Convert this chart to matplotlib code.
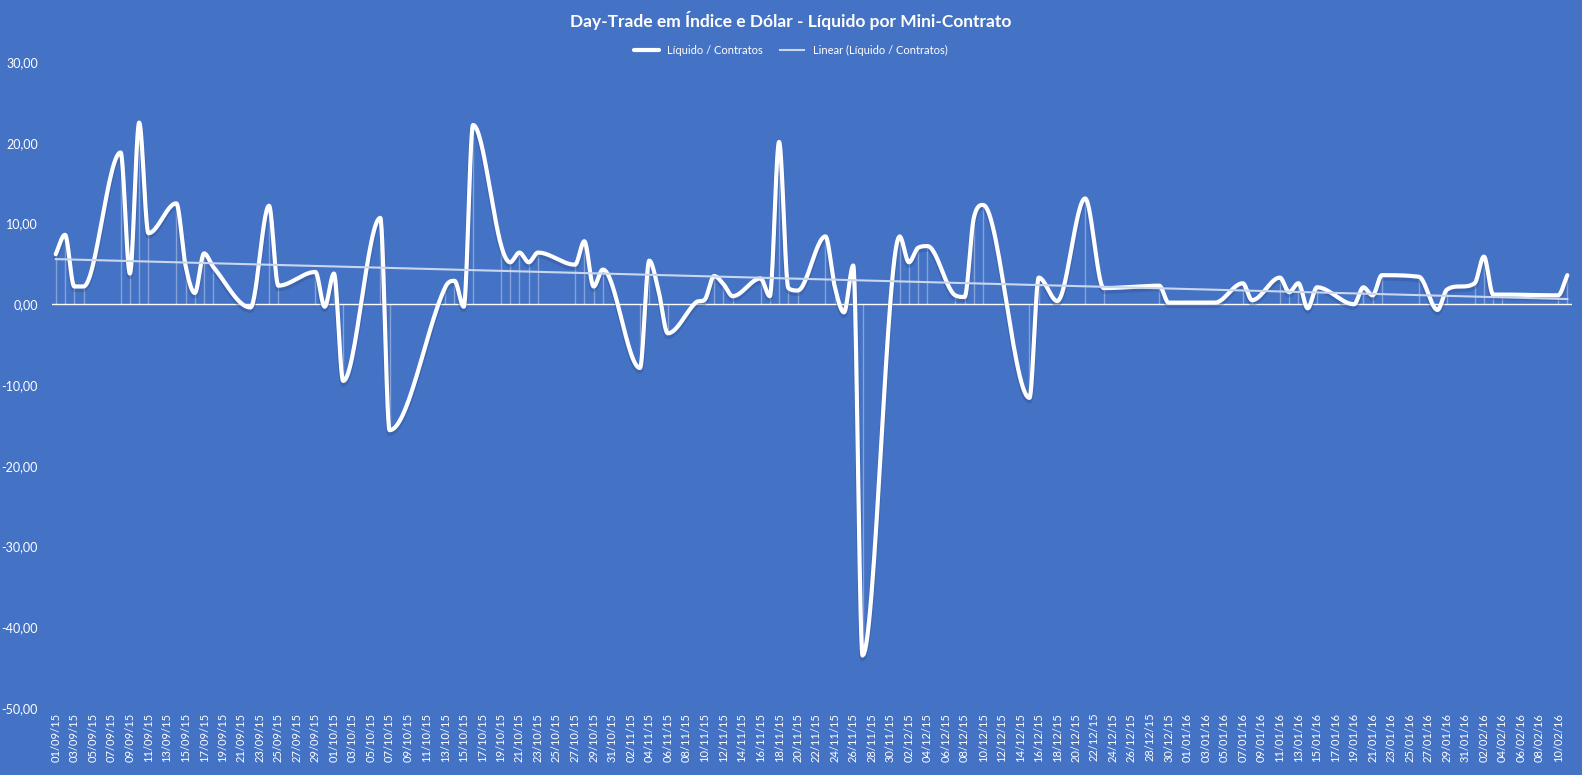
import numpy as np
import matplotlib
matplotlib.use('Agg')
from matplotlib import pyplot as plt
import matplotlib.dates as mdates
from datetime import datetime

# Day-trade results per mini contract
dates = ['01/09/15', '02/09/15', '03/09/15', '04/09/15', '08/09/15', '09/09/15',
         '10/09/15', '11/09/15', '14/09/15', '15/09/15', '16/09/15', '17/09/15',
         '18/09/15', '22/09/15', '24/09/15', '25/09/15', '29/09/15', '30/09/15',
         '01/10/15', '02/10/15', '06/10/15', '07/10/15', '13/10/15', '14/10/15',
         '15/10/15', '16/10/15', '19/10/15', '20/10/15', '21/10/15', '22/10/15',
         '23/10/15', '27/10/15', '28/10/15', '29/10/15', '30/10/15', '03/11/15',
         '04/11/15', '05/11/15', '06/11/15', '09/11/15', '10/11/15', '11/11/15',
         '12/11/15', '13/11/15', '16/11/15', '17/11/15', '18/11/15', '19/11/15',
         '20/11/15', '23/11/15', '24/11/15', '25/11/15', '26/11/15', '27/11/15',
         '01/12/15', '02/12/15', '03/12/15', '04/12/15', '07/12/15', '08/12/15',
         '09/12/15', '10/12/15', '15/12/15', '16/12/15', '18/12/15', '21/12/15',
         '23/12/15', '29/12/15', '30/12/15', '04/01/16', '07/01/16', '08/01/16',
         '11/01/16', '12/01/16', '13/01/16', '14/01/16', '15/01/16', '19/01/16',
         '20/01/16', '21/01/16', '22/01/16', '26/01/16', '28/01/16', '29/01/16',
         '01/02/16', '02/02/16', '03/02/16', '04/02/16', '10/02/16', '11/02/16']
values = [6.2, 8.6, 2.2, 2.2, 18.8, 3.8,
          22.5, 8.8, 12.5, 4.8, 1.4, 6.3,
          4.6, -0.4, 12.2, 2.3, 4.0, -0.3,
          3.8, -9.5, 10.7, -15.6, 2.1, 2.9,
          -0.3, 22.2, 7.4, 5.2, 6.4, 5.2,
          6.4, 4.9, 7.8, 2.2, 4.3, -7.9,
          5.4, 1.7, -3.6, 0.2, 0.6, 3.5,
          2.5, 1.0, 3.2, 1.0, 20.1, 2.0,
          1.7, 8.4, 2.2, -1.0, 4.8, -43.5,
          8.4, 5.2, 7.0, 7.2, 1.1, 0.9,
          10.7, 12.3, -11.6, 3.3, 0.4, 13.1,
          2.0, 2.3, 0.2, 0.2, 2.6, 0.5,
          3.3, 1.5, 2.6, -0.5, 2.1, 0.0,
          2.1, 1.1, 3.6, 3.4, -0.7, 1.8,
          2.6, 5.9, 1.2, 1.2, 1.1, 3.6]

BG = '#4472C4'
WHITE = 'white'
plt.rcParams['font.family'] = ['Lato', 'DejaVu Sans']

x = mdates.date2num([datetime.strptime(d, '%d/%m/%y') for d in dates])
y = np.array(values)

# Smoothed line: cubic Hermite, flat tangents at local extrema (no overshoot)
def smooth(xp, yp, n=30):
    h = np.diff(xp)
    d = np.diff(yp) / h
    m = np.zeros(len(yp))
    m[0], m[-1] = d[0], d[-1]
    for i in range(1, len(yp) - 1):
        if d[i-1] * d[i] <= 0:
            m[i] = 0.0
        else:
            m[i] = (yp[i+1] - yp[i-1]) / (xp[i+1] - xp[i-1])
            lim = 3 * min(abs(d[i-1]), abs(d[i]))
            m[i] = np.sign(m[i]) * min(abs(m[i]), lim)
    xs, ys = [], []
    t = np.linspace(0, 1, n)
    for i in range(len(h)):
        h00 = 2*t**3 - 3*t**2 + 1
        h10 = t**3 - 2*t**2 + t
        h01 = -2*t**3 + 3*t**2
        h11 = t**3 - t**2
        xs.append(xp[i] + t*h[i])
        ys.append(h00*yp[i] + h10*h[i]*m[i] + h01*yp[i+1] + h11*h[i]*m[i+1])
    return np.concatenate(xs), np.concatenate(ys)

sx, sy = smooth(x, y)

fig = plt.figure(figsize=(15.82, 7.75), dpi=100, facecolor=BG)
ax = fig.add_axes([52/1582, 67/775, 1520/1582, 646/775], facecolor=BG)

# drop lines
ax.vlines(x, 0, y, color=WHITE, lw=1, alpha=0.35)
ax.axhline(0, color=WHITE, lw=1)

# trend line
coef = np.polyfit(x, y, 1)
tx = np.array([x[0], x[-1]])
ax.plot(sx, sy - 0.35, color='#2F4F8F', lw=4, alpha=0.35, solid_capstyle='round')
l1, = ax.plot(sx, sy, color=WHITE, lw=3, solid_capstyle='round')
l2, = ax.plot(tx, np.polyval(coef, tx), color='#C9D6EE', lw=1.5)

ax.set_ylim(-50, 30)
ax.set_yticks(np.arange(-50, 31, 10))
ax.yaxis.set_major_formatter(plt.FuncFormatter(lambda v, p: '{0:.2f}'.format(v).replace('.', ',')))
start = x[0]
ticks = np.arange(start, x[-1], 2)
ax.set_xticks(ticks)
ax.set_xticklabels([mdates.num2date(t).strftime('%d/%m/%y') for t in ticks], rotation=90)
ax.set_xlim(start - 0.4, x[-1] + 0.5)
ax.tick_params(colors=WHITE, length=0, labelsize=8)
ax.tick_params(axis='y', labelsize=9, pad=10)
for s in ax.spines.values():
    s.set_visible(False)

fig.text(0.5, 1 - 20/775, 'Day-Trade em Índice e Dólar - Líquido por Mini-Contrato',
         ha='center', va='center', color=WHITE, fontsize=12.5, fontweight='bold')
fig.legend([l1, l2], ['Líquido / Contratos', 'Linear (Líquido / Contratos)'],
           loc='center', bbox_to_anchor=(0.5, 1 - 50/775), ncol=2, frameon=False,
           fontsize=8, labelcolor=WHITE, handlelength=2.2, columnspacing=1.5)

fig.savefig('out.png', dpi=100, facecolor=BG)
